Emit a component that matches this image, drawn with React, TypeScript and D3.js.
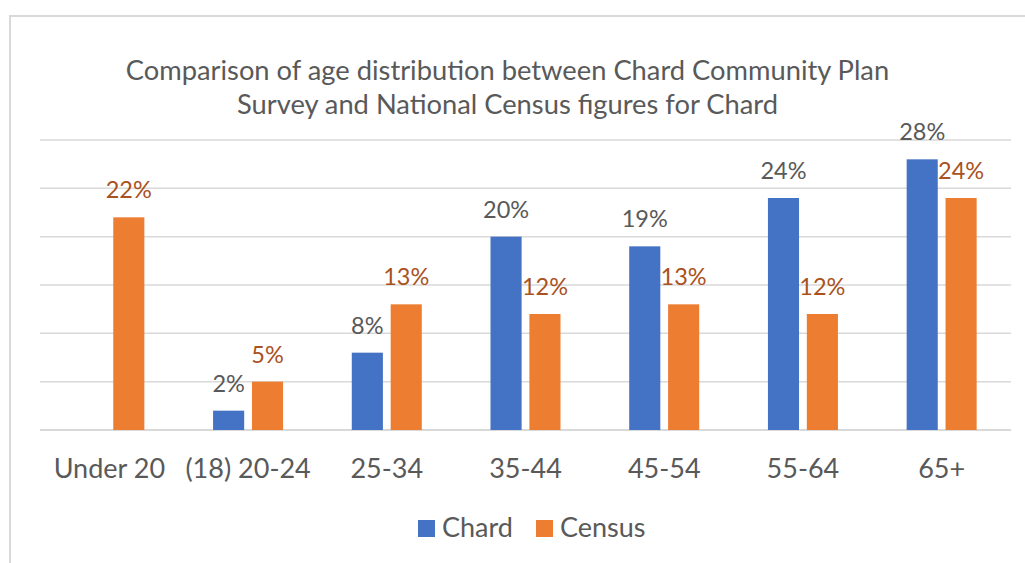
import React from "react";
import * as d3 from "d3";

const categories = ["Under 20", "(18) 20-24", "25-34", "35-44", "45-54", "55-64", "65+"];
const seriesNames = ["Chard", "Census"];
const chardValues: (number | null)[] = [null, 2, 8, 20, 19, 24, 28];
const censusValues: (number | null)[] = [22, 5, 13, 12, 13, 12, 24];
const yTicks = [0, 5, 10, 15, 20, 25, 30];
const titleLines = [
  "Comparison of age distribution between Chard Community Plan",
  "Survey and National Census figures for Chard",
];

const W = 1025;
const H = 563;
const FONT = "Lato, 'Open Sans', sans-serif";
const barColors = ["#4472C4", "#ED7D31"];
const labelColors = ["#595959", "#A9521E"];

export default function App() {
  const plotLeft = 40;
  const plotRight = 1011;
  const plotTop = 140;
  const plotBottom = 430;

  const x0 = d3.scaleBand<string>().domain(categories).range([plotLeft, plotRight]).padding(0);
  const groupW = 70;
  const x1 = d3.scaleBand<string>().domain(seriesNames).range([0, groupW]).paddingInner(0.2).paddingOuter(0);
  const y = d3.scaleLinear().domain([0, 30]).range([plotBottom, plotTop]);

  const seriesData = [chardValues, censusValues];

  return (
    <svg
      width={W}
      height={H}
      style={{ position: "absolute", left: 0, top: 0, background: "#fff" }}
      fontFamily={FONT}
    >
      <rect x={0} y={0} width={W} height={H} fill="#fff" />
      <rect x={10} y={16} width={1100} height={700} fill="none" stroke="#d9d9d9" strokeWidth={2} />

      {titleLines.map((t, i) => (
        <text key={i} x={507.5} y={80 + i * 34} textAnchor="middle" fontSize={27.3} fill="#595959">
          {t}
        </text>
      ))}

      {yTicks.map((t) => (
        <line
          key={t}
          x1={plotLeft}
          x2={plotRight}
          y1={y(t)}
          y2={y(t)}
          stroke="#d9d9d9"
          strokeWidth={t === 0 ? 2 : 1.5}
        />
      ))}

      {categories.map((c, ci) => {
        const gx = (x0(c) as number) + x0.bandwidth() / 2 - groupW / 2;
        return (
          <g key={c}>
            {seriesNames.map((s, si) => {
              const v = seriesData[si][ci];
              if (v == null) return null;
              const bx = gx + (x1(s) as number);
              const bw = x1.bandwidth();
              return (
                <g key={s}>
                  <rect x={bx} y={y(v)} width={bw} height={y(0) - y(v)} fill={barColors[si]} />
                  <text
                    x={bx + bw / 2}
                    y={y(v) - 19}
                    textAnchor="middle"
                    fontSize={23.5}
                    fill={labelColors[si]}
                  >
                    {v}%
                  </text>
                </g>
              );
            })}
            <text
              x={(x0(c) as number) + x0.bandwidth() / 2}
              y={478}
              textAnchor="middle"
              fontSize={27}
              fill="#595959"
            >
              {c}
            </text>
          </g>
        );
      })}

      {seriesNames.map((s, si) => {
        const sx = si === 0 ? 418 : 536;
        return (
          <g key={s}>
            <rect x={sx} y={520} width={17} height={17} fill={barColors[si]} />
            <text x={sx + 24} y={537} fontSize={27} fill="#595959">
              {s}
            </text>
          </g>
        );
      })}
    </svg>
  );
}
